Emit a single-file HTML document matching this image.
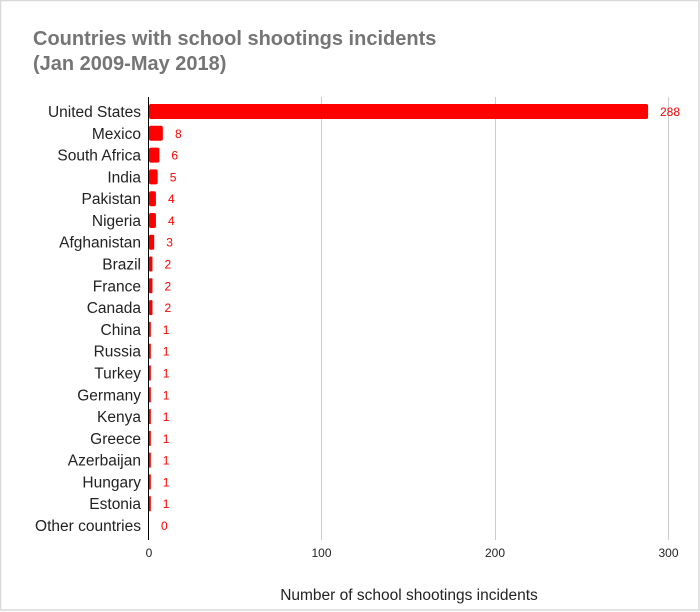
<!DOCTYPE html>
<html><head><meta charset="utf-8"><style>
html,body{margin:0;padding:0;background:#fff}
svg{display:block}
</style></head><body>
<svg width="700" height="612" xmlns="http://www.w3.org/2000/svg" font-family="Liberation Sans, Arial, sans-serif">
<rect x="0" y="0" width="700" height="612" fill="#fff"/>
<rect x="0.5" y="0.5" width="698.5" height="609.5" fill="none" stroke="#d9d9d9" stroke-width="1.5"/>
<text x="33" y="45" font-size="20" font-weight="bold" fill="#757575">Countries with school shootings incidents</text>
<text x="33" y="70" font-size="20" font-weight="bold" fill="#757575">(Jan 2009-May 2018)</text>
<g stroke="#cccccc" stroke-width="1">
<line x1="321.5" y1="97" x2="321.5" y2="540"/>
<line x1="495.5" y1="97" x2="495.5" y2="540"/>
<line x1="668.5" y1="97" x2="668.5" y2="540"/>
</g>
<g font-size="15.5" fill="#222" text-anchor="end">
<text x="141" y="117">United States</text>
<text x="141" y="138.8">Mexico</text>
<text x="141" y="160.6">South Africa</text>
<text x="141" y="182.4">India</text>
<text x="141" y="204.2">Pakistan</text>
<text x="141" y="226">Nigeria</text>
<text x="141" y="247.7">Afghanistan</text>
<text x="141" y="269.5">Brazil</text>
<text x="141" y="291.3">France</text>
<text x="141" y="313.1">Canada</text>
<text x="141" y="334.9">China</text>
<text x="141" y="356.7">Russia</text>
<text x="141" y="378.5">Turkey</text>
<text x="141" y="400.3">Germany</text>
<text x="141" y="422.1">Kenya</text>
<text x="141" y="443.9">Greece</text>
<text x="141" y="465.6">Azerbaijan</text>
<text x="141" y="487.4">Hungary</text>
<text x="141" y="509.2">Estonia</text>
<text x="141" y="531">Other countries</text>
</g>
<g fill="#ff0000">
<rect x="149" y="104" width="499.1" height="15" rx="2"/>
<rect x="149" y="125.8" width="13.86" height="15" rx="2"/>
<rect x="149" y="147.6" width="10.4" height="15" rx="2"/>
<rect x="149" y="169.4" width="8.67" height="15" rx="2"/>
<rect x="149" y="191.2" width="6.93" height="15" rx="2"/>
<rect x="149" y="213" width="6.93" height="15" rx="2"/>
<rect x="149" y="234.7" width="5.2" height="15" rx="1.5"/>
<rect x="149" y="256.5" width="3.47" height="15" rx="1"/>
<rect x="149" y="278.3" width="3.47" height="15" rx="1"/>
<rect x="149" y="300.1" width="3.47" height="15" rx="1"/>
<rect x="149" y="321.9" width="1.8" height="15"/>
<rect x="149" y="343.7" width="1.8" height="15"/>
<rect x="149" y="365.5" width="1.8" height="15"/>
<rect x="149" y="387.3" width="1.8" height="15"/>
<rect x="149" y="409.1" width="1.8" height="15"/>
<rect x="149" y="430.9" width="1.8" height="15"/>
<rect x="149" y="452.6" width="1.8" height="15"/>
<rect x="149" y="474.4" width="1.8" height="15"/>
<rect x="149" y="496.2" width="1.8" height="15"/>
</g>
<g font-size="12" fill="#ff0000">
<text x="660" y="116">288</text>
<text x="175" y="137.8">8</text>
<text x="171.4" y="159.6">6</text>
<text x="169.7" y="181.4">5</text>
<text x="168" y="203.2">4</text>
<text x="168" y="225">4</text>
<text x="166.2" y="246.7">3</text>
<text x="164.5" y="268.5">2</text>
<text x="164.5" y="290.3">2</text>
<text x="164.5" y="312.1">2</text>
<text x="162.7" y="333.9">1</text>
<text x="162.7" y="355.7">1</text>
<text x="162.7" y="377.5">1</text>
<text x="162.7" y="399.3">1</text>
<text x="162.7" y="421.1">1</text>
<text x="162.7" y="442.9">1</text>
<text x="162.7" y="464.6">1</text>
<text x="162.7" y="486.4">1</text>
<text x="162.7" y="508.2">1</text>
<text x="161" y="530">0</text>
</g>
<line x1="148.5" y1="97" x2="148.5" y2="540" stroke="#000" stroke-width="1"/>
<g font-size="12" fill="#222" text-anchor="middle">
<text x="149" y="557">0</text><text x="321.5" y="557">100</text><text x="495" y="557">200</text><text x="668.5" y="557">300</text>
</g>
<text x="409" y="600" font-size="15.5" fill="#222" text-anchor="middle">Number of school shootings incidents</text>
</svg>
</body></html>
